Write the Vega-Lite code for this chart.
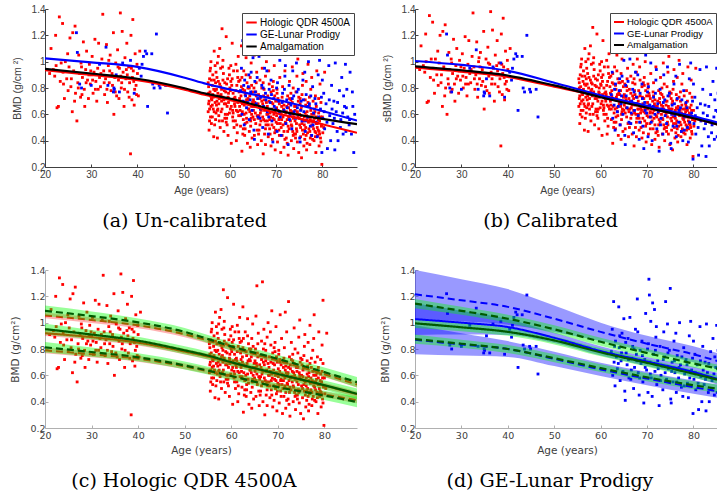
{
"$schema":"https://vega.github.io/schema/vega-lite/v6.json",
"background":"white",
"padding":{"left":10,"top":4,"right":0,"bottom":0},
"columns":2,
"spacing":{"row":34,"column":23},
"resolve":{"scale":{"stroke":"independent"},"legend":{"stroke":"independent"}},
"datasets":{
"hol":[
{"age":21.0,"bmd":0.91,"sbmd":0.94},{"age":21.3,"bmd":1.10,"sbmd":1.12},{"age":21.8,"bmd":0.94,"sbmd":0.97},{"age":22.1,"bmd":0.89,"sbmd":0.92},{"age":22.3,"bmd":1.20,"sbmd":1.21},{"age":22.6,"bmd":0.65,"sbmd":0.69},{"age":22.9,"bmd":0.66,"sbmd":0.70},{"age":23.1,"bmd":1.34,"sbmd":1.35},{"age":23.3,"bmd":0.85,"sbmd":0.88},{"age":23.5,"bmd":0.99,"sbmd":1.02},{"age":23.8,"bmd":1.29,"sbmd":1.30},{"age":23.9,"bmd":0.92,"sbmd":0.95},{"age":24.2,"bmd":0.72,"sbmd":0.76},{"age":24.4,"bmd":1.00,"sbmd":1.02},{"age":24.7,"bmd":0.87,"sbmd":0.90},{"age":25.0,"bmd":0.78,"sbmd":0.82},{"age":25.2,"bmd":0.96,"sbmd":0.99},{"age":25.4,"bmd":1.18,"sbmd":1.20},{"age":25.6,"bmd":0.81,"sbmd":0.84},{"age":25.9,"bmd":0.62,"sbmd":0.66},{"age":26.0,"bmd":1.22,"sbmd":1.23},{"age":26.2,"bmd":0.93,"sbmd":0.96},{"age":26.5,"bmd":1.27,"sbmd":1.28},{"age":26.6,"bmd":0.76,"sbmd":0.80},{"age":26.9,"bmd":0.55,"sbmd":0.60},{"age":27.1,"bmd":0.84,"sbmd":0.87},{"age":27.3,"bmd":1.05,"sbmd":1.07},{"age":27.5,"bmd":0.91,"sbmd":0.94},{"age":27.7,"bmd":0.73,"sbmd":0.77},{"age":27.9,"bmd":0.96,"sbmd":0.99},{"age":28.1,"bmd":0.88,"sbmd":0.91},{"age":28.3,"bmd":1.15,"sbmd":1.17},{"age":28.5,"bmd":0.79,"sbmd":0.83},{"age":28.6,"bmd":0.66,"sbmd":0.70},{"age":28.8,"bmd":0.94,"sbmd":0.97},{"age":29.0,"bmd":1.08,"sbmd":1.10},{"age":29.2,"bmd":0.86,"sbmd":0.89},{"age":29.4,"bmd":0.72,"sbmd":0.76},{"age":29.6,"bmd":0.98,"sbmd":1.01},{"age":29.8,"bmd":0.83,"sbmd":0.86},{"age":30.0,"bmd":0.90,"sbmd":0.93},{"age":30.2,"bmd":1.04,"sbmd":1.06},{"age":30.4,"bmd":0.76,"sbmd":0.80},{"age":30.6,"bmd":0.92,"sbmd":0.95},{"age":30.8,"bmd":1.17,"sbmd":1.19},{"age":31.0,"bmd":0.85,"sbmd":0.88},{"age":31.2,"bmd":0.70,"sbmd":0.74},{"age":31.4,"bmd":0.95,"sbmd":0.98},{"age":31.6,"bmd":1.14,"sbmd":1.16},{"age":31.8,"bmd":0.88,"sbmd":0.91},{"age":32.0,"bmd":0.81,"sbmd":0.84},{"age":32.3,"bmd":1.02,"sbmd":1.04},{"age":32.5,"bmd":1.36,"sbmd":1.37},{"age":32.7,"bmd":0.93,"sbmd":0.96},{"age":32.9,"bmd":0.75,"sbmd":0.79},{"age":33.1,"bmd":0.87,"sbmd":0.90},{"age":33.3,"bmd":1.13,"sbmd":1.15},{"age":33.5,"bmd":0.69,"sbmd":0.73},{"age":33.7,"bmd":0.97,"sbmd":1.00},{"age":33.9,"bmd":0.84,"sbmd":0.87},{"age":34.1,"bmd":1.05,"sbmd":1.07},{"age":34.3,"bmd":0.78,"sbmd":0.82},{"age":34.5,"bmd":0.91,"sbmd":0.94},{"age":34.8,"bmd":1.22,"sbmd":1.23},{"age":34.9,"bmd":0.60,"sbmd":0.64},{"age":35.1,"bmd":0.88,"sbmd":0.91},{"age":35.3,"bmd":0.99,"sbmd":1.02},{"age":35.5,"bmd":0.74,"sbmd":0.78},{"age":35.7,"bmd":1.09,"sbmd":1.11},{"age":35.9,"bmd":0.86,"sbmd":0.89},{"age":36.1,"bmd":0.95,"sbmd":0.98},{"age":36.3,"bmd":1.37,"sbmd":1.38},{"age":36.5,"bmd":0.80,"sbmd":0.83},{"age":36.7,"bmd":1.23,"sbmd":1.24},{"age":36.9,"bmd":0.92,"sbmd":0.95},{"age":37.1,"bmd":0.66,"sbmd":0.70},{"age":37.3,"bmd":1.03,"sbmd":1.05},{"age":37.5,"bmd":0.87,"sbmd":0.90},{"age":37.7,"bmd":1.14,"sbmd":1.16},{"age":37.9,"bmd":0.77,"sbmd":0.81},{"age":38.1,"bmd":0.96,"sbmd":0.99},{"age":38.3,"bmd":0.84,"sbmd":0.87},{"age":38.5,"bmd":0.30,"sbmd":0.36},{"age":38.6,"bmd":1.20,"sbmd":1.21},{"age":38.8,"bmd":0.71,"sbmd":0.75},{"age":39.0,"bmd":1.32,"sbmd":1.33},{"age":39.1,"bmd":0.93,"sbmd":0.96},{"age":39.3,"bmd":0.67,"sbmd":0.71},{"age":39.5,"bmd":1.06,"sbmd":1.08},{"age":39.7,"bmd":0.82,"sbmd":0.85},{"age":39.9,"bmd":0.98,"sbmd":1.01},{"age":40.2,"bmd":0.74,"sbmd":0.78},{"age":40.5,"bmd":1.08,"sbmd":1.10},{"age":36.4,"bmd":0.89,"sbmd":0.92},{"age":37.6,"bmd":0.94,"sbmd":0.97},{"age":38.9,"bmd":0.88,"sbmd":0.91},{"age":39.4,"bmd":0.79,"sbmd":0.83},{"age":27.8,"bmd":0.99,"sbmd":1.02},{"age":29.9,"bmd":0.93,"sbmd":0.96},{"age":25.7,"bmd":0.87,"sbmd":0.90},{"age":31.5,"bmd":0.79,"sbmd":0.83},
{"age":22.4,"bmd":0.97,"sbmd":1.00},{"age":24.0,"bmd":0.83,"sbmd":0.86},{"age":24.9,"bmd":1.06,"sbmd":1.08},{"age":26.4,"bmd":0.70,"sbmd":0.74},{"age":27.2,"bmd":0.80,"sbmd":0.83},{"age":28.0,"bmd":0.75,"sbmd":0.79},{"age":28.9,"bmd":0.84,"sbmd":0.87},{"age":29.5,"bmd":0.90,"sbmd":0.93},{"age":30.3,"bmd":0.86,"sbmd":0.89},{"age":30.9,"bmd":0.79,"sbmd":0.83},{"age":32.1,"bmd":0.91,"sbmd":0.94},{"age":32.8,"bmd":0.84,"sbmd":0.87},{"age":33.4,"bmd":0.79,"sbmd":0.83},{"age":34.0,"bmd":0.93,"sbmd":0.96},{"age":34.6,"bmd":0.82,"sbmd":0.85},{"age":35.2,"bmd":0.77,"sbmd":0.81},{"age":35.8,"bmd":0.96,"sbmd":0.99},{"age":36.6,"bmd":0.84,"sbmd":0.87},{"age":37.2,"bmd":0.79,"sbmd":0.83},{"age":37.8,"bmd":0.90,"sbmd":0.93},{"age":38.2,"bmd":0.73,"sbmd":0.77},{"age":38.7,"bmd":0.95,"sbmd":0.98},{"age":39.2,"bmd":0.85,"sbmd":0.88},{"age":39.8,"bmd":0.75,"sbmd":0.79},{"age":40.0,"bmd":0.91,"sbmd":0.94},{"age":36.0,"bmd":0.72,"sbmd":0.76},{"age":33.8,"bmd":1.01,"sbmd":1.03},
{"age":55.3,"bmd":0.62,"sbmd":0.66},{"age":55.4,"bmd":0.81,"sbmd":0.84},{"age":55.5,"bmd":0.70,"sbmd":0.74},{"age":55.6,"bmd":0.55,"sbmd":0.60},{"age":55.7,"bmd":0.93,"sbmd":0.96},{"age":55.8,"bmd":0.74,"sbmd":0.78},{"age":55.9,"bmd":0.66,"sbmd":0.70},{"age":56.0,"bmd":0.86,"sbmd":0.89},{"age":55.5,"bmd":0.48,"sbmd":0.53},{"age":55.7,"bmd":0.77,"sbmd":0.81},{"age":55.9,"bmd":1.00,"sbmd":1.02},
{"age":56.1,"bmd":0.71,"sbmd":0.75},{"age":56.2,"bmd":0.58,"sbmd":0.63},{"age":56.3,"bmd":0.90,"sbmd":0.93},{"age":56.4,"bmd":0.64,"sbmd":0.68},{"age":56.5,"bmd":0.79,"sbmd":0.83},{"age":56.6,"bmd":1.08,"sbmd":1.10},{"age":56.7,"bmd":0.52,"sbmd":0.57},{"age":56.8,"bmd":0.69,"sbmd":0.73},{"age":56.9,"bmd":0.84,"sbmd":0.87},{"age":57.0,"bmd":0.61,"sbmd":0.65},{"age":56.5,"bmd":0.43,"sbmd":0.48},{"age":56.8,"bmd":0.97,"sbmd":1.00},{"age":56.3,"bmd":0.75,"sbmd":0.79},
{"age":57.1,"bmd":0.67,"sbmd":0.71},{"age":57.2,"bmd":0.88,"sbmd":0.91},{"age":57.3,"bmd":0.42,"sbmd":0.47},{"age":57.4,"bmd":0.76,"sbmd":0.80},{"age":57.5,"bmd":1.04,"sbmd":1.06},{"age":57.6,"bmd":0.59,"sbmd":0.64},{"age":57.7,"bmd":0.72,"sbmd":0.76},{"age":57.8,"bmd":0.83,"sbmd":0.86},{"age":57.9,"bmd":0.50,"sbmd":0.55},{"age":58.0,"bmd":0.95,"sbmd":0.98},{"age":57.4,"bmd":0.64,"sbmd":0.68},{"age":57.8,"bmd":1.10,"sbmd":1.12},{"age":57.2,"bmd":0.70,"sbmd":0.74},
{"age":58.1,"bmd":0.62,"sbmd":0.66},{"age":58.2,"bmd":0.79,"sbmd":0.83},{"age":58.3,"bmd":1.25,"sbmd":1.26},{"age":58.4,"bmd":0.55,"sbmd":0.60},{"age":58.5,"bmd":0.73,"sbmd":0.77},{"age":58.6,"bmd":0.91,"sbmd":0.94},{"age":58.7,"bmd":0.47,"sbmd":0.52},{"age":58.8,"bmd":0.68,"sbmd":0.72},{"age":58.9,"bmd":0.84,"sbmd":0.87},{"age":59.0,"bmd":0.60,"sbmd":0.64},{"age":58.5,"bmd":1.01,"sbmd":1.03},{"age":58.2,"bmd":0.70,"sbmd":0.74},
{"age":59.1,"bmd":0.77,"sbmd":0.81},{"age":59.2,"bmd":1.19,"sbmd":1.21},{"age":59.3,"bmd":0.57,"sbmd":0.62},{"age":59.4,"bmd":0.66,"sbmd":0.70},{"age":59.5,"bmd":0.87,"sbmd":0.90},{"age":59.6,"bmd":0.44,"sbmd":0.49},{"age":59.7,"bmd":0.72,"sbmd":0.76},{"age":59.8,"bmd":0.95,"sbmd":0.98},{"age":59.9,"bmd":0.61,"sbmd":0.65},{"age":60.0,"bmd":0.80,"sbmd":0.83},{"age":59.4,"bmd":0.52,"sbmd":0.57},{"age":59.7,"bmd":0.69,"sbmd":0.73},
{"age":60.1,"bmd":0.64,"sbmd":0.68},{"age":60.2,"bmd":0.85,"sbmd":0.88},{"age":60.3,"bmd":0.38,"sbmd":0.44},{"age":60.4,"bmd":0.71,"sbmd":0.75},{"age":60.5,"bmd":1.14,"sbmd":1.16},{"age":60.6,"bmd":0.58,"sbmd":0.63},{"age":60.7,"bmd":0.76,"sbmd":0.80},{"age":60.8,"bmd":0.93,"sbmd":0.96},{"age":60.9,"bmd":0.50,"sbmd":0.55},{"age":61.0,"bmd":0.68,"sbmd":0.72},{"age":60.4,"bmd":0.82,"sbmd":0.85},{"age":60.7,"bmd":0.61,"sbmd":0.65},
{"age":61.1,"bmd":0.73,"sbmd":0.77},{"age":61.2,"bmd":0.55,"sbmd":0.60},{"age":61.3,"bmd":0.98,"sbmd":1.01},{"age":61.4,"bmd":0.63,"sbmd":0.67},{"age":61.5,"bmd":0.82,"sbmd":0.85},{"age":61.6,"bmd":0.46,"sbmd":0.51},{"age":61.7,"bmd":0.69,"sbmd":0.73},{"age":61.8,"bmd":1.04,"sbmd":1.06},{"age":61.9,"bmd":0.59,"sbmd":0.64},{"age":62.0,"bmd":0.77,"sbmd":0.81},{"age":61.4,"bmd":0.40,"sbmd":0.45},{"age":61.7,"bmd":0.88,"sbmd":0.91},
{"age":62.1,"bmd":0.66,"sbmd":0.70},{"age":62.2,"bmd":0.86,"sbmd":0.89},{"age":62.3,"bmd":0.51,"sbmd":0.56},{"age":62.4,"bmd":0.74,"sbmd":0.78},{"age":62.5,"bmd":1.12,"sbmd":1.14},{"age":62.6,"bmd":0.32,"sbmd":0.38},{"age":62.7,"bmd":0.62,"sbmd":0.66},{"age":62.8,"bmd":0.79,"sbmd":0.83},{"age":62.9,"bmd":0.56,"sbmd":0.61},{"age":63.0,"bmd":0.93,"sbmd":0.96},{"age":62.4,"bmd":0.70,"sbmd":0.74},{"age":62.8,"bmd":0.45,"sbmd":0.50},
{"age":63.1,"bmd":0.60,"sbmd":0.64},{"age":63.2,"bmd":0.78,"sbmd":0.82},{"age":63.3,"bmd":0.49,"sbmd":0.54},{"age":63.4,"bmd":0.69,"sbmd":0.73},{"age":63.5,"bmd":1.03,"sbmd":1.05},{"age":63.6,"bmd":0.57,"sbmd":0.62},{"age":63.7,"bmd":0.84,"sbmd":0.87},{"age":63.8,"bmd":0.38,"sbmd":0.44},{"age":63.9,"bmd":0.72,"sbmd":0.76},{"age":64.0,"bmd":0.64,"sbmd":0.68},{"age":63.5,"bmd":0.90,"sbmd":0.93},{"age":63.3,"bmd":0.53,"sbmd":0.58},
{"age":64.1,"bmd":0.71,"sbmd":0.75},{"age":64.2,"bmd":0.47,"sbmd":0.52},{"age":64.3,"bmd":0.62,"sbmd":0.66},{"age":64.4,"bmd":0.88,"sbmd":0.91},{"age":64.5,"bmd":0.55,"sbmd":0.60},{"age":64.6,"bmd":0.99,"sbmd":1.02},{"age":64.7,"bmd":0.66,"sbmd":0.70},{"age":64.8,"bmd":0.42,"sbmd":0.47},{"age":64.9,"bmd":0.77,"sbmd":0.81},{"age":65.0,"bmd":0.58,"sbmd":0.63},{"age":64.4,"bmd":0.35,"sbmd":0.41},{"age":64.7,"bmd":0.82,"sbmd":0.85},
{"age":65.1,"bmd":0.63,"sbmd":0.67},{"age":65.2,"bmd":0.80,"sbmd":0.83},{"age":65.3,"bmd":0.44,"sbmd":0.49},{"age":65.4,"bmd":0.69,"sbmd":0.73},{"age":65.5,"bmd":1.28,"sbmd":1.29},{"age":65.6,"bmd":0.53,"sbmd":0.58},{"age":65.7,"bmd":0.74,"sbmd":0.78},{"age":65.8,"bmd":0.92,"sbmd":0.95},{"age":65.9,"bmd":0.59,"sbmd":0.64},{"age":66.0,"bmd":0.37,"sbmd":0.43},{"age":65.5,"bmd":0.67,"sbmd":0.71},{"age":65.3,"bmd":1.05,"sbmd":1.07},
{"age":66.1,"bmd":0.57,"sbmd":0.62},{"age":66.2,"bmd":0.75,"sbmd":0.79},{"age":66.3,"bmd":0.48,"sbmd":0.53},{"age":66.4,"bmd":0.66,"sbmd":0.70},{"age":66.5,"bmd":0.86,"sbmd":0.89},{"age":66.6,"bmd":0.61,"sbmd":0.65},{"age":66.7,"bmd":1.31,"sbmd":1.32},{"age":66.8,"bmd":0.40,"sbmd":0.45},{"age":66.9,"bmd":0.70,"sbmd":0.74},{"age":67.0,"bmd":0.95,"sbmd":0.98},{"age":66.5,"bmd":0.52,"sbmd":0.57},{"age":66.8,"bmd":0.63,"sbmd":0.67},
{"age":67.1,"bmd":0.68,"sbmd":0.72},{"age":67.2,"bmd":0.30,"sbmd":0.36},{"age":67.3,"bmd":0.56,"sbmd":0.61},{"age":67.4,"bmd":0.79,"sbmd":0.83},{"age":67.5,"bmd":0.45,"sbmd":0.50},{"age":67.6,"bmd":0.64,"sbmd":0.68},{"age":67.7,"bmd":0.89,"sbmd":0.92},{"age":67.8,"bmd":0.52,"sbmd":0.57},{"age":67.9,"bmd":1.00,"sbmd":1.02},{"age":68.0,"bmd":0.60,"sbmd":0.64},{"age":67.4,"bmd":0.71,"sbmd":0.75},{"age":67.7,"bmd":0.37,"sbmd":0.43},
{"age":68.1,"bmd":0.55,"sbmd":0.60},{"age":68.2,"bmd":0.74,"sbmd":0.78},{"age":68.3,"bmd":0.43,"sbmd":0.48},{"age":68.4,"bmd":0.63,"sbmd":0.67},{"age":68.5,"bmd":0.83,"sbmd":0.86},{"age":68.6,"bmd":0.49,"sbmd":0.54},{"age":68.7,"bmd":1.09,"sbmd":1.11},{"age":68.8,"bmd":0.58,"sbmd":0.63},{"age":68.9,"bmd":0.36,"sbmd":0.42},{"age":69.0,"bmd":0.69,"sbmd":0.73},{"age":68.4,"bmd":0.93,"sbmd":0.96},{"age":68.7,"bmd":0.61,"sbmd":0.65},
{"age":69.1,"bmd":0.64,"sbmd":0.68},{"age":69.2,"bmd":0.41,"sbmd":0.46},{"age":69.3,"bmd":0.57,"sbmd":0.62},{"age":69.4,"bmd":0.78,"sbmd":0.82},{"age":69.5,"bmd":0.50,"sbmd":0.55},{"age":69.6,"bmd":0.97,"sbmd":1.00},{"age":69.7,"bmd":0.62,"sbmd":0.66},{"age":69.8,"bmd":0.33,"sbmd":0.39},{"age":69.9,"bmd":0.70,"sbmd":0.74},{"age":70.0,"bmd":0.54,"sbmd":0.59},{"age":69.4,"bmd":0.85,"sbmd":0.88},{"age":69.7,"bmd":0.46,"sbmd":0.51},
{"age":70.1,"bmd":0.59,"sbmd":0.64},{"age":70.2,"bmd":0.76,"sbmd":0.80},{"age":70.3,"bmd":0.39,"sbmd":0.45},{"age":70.4,"bmd":0.63,"sbmd":0.67},{"age":70.5,"bmd":1.06,"sbmd":1.08},{"age":70.6,"bmd":0.48,"sbmd":0.53},{"age":70.7,"bmd":0.68,"sbmd":0.72},{"age":70.8,"bmd":0.88,"sbmd":0.91},{"age":70.9,"bmd":0.53,"sbmd":0.58},{"age":71.0,"bmd":0.31,"sbmd":0.37},{"age":70.4,"bmd":0.72,"sbmd":0.76},{"age":70.7,"bmd":0.57,"sbmd":0.62},
{"age":71.1,"bmd":0.50,"sbmd":0.55},{"age":71.2,"bmd":0.66,"sbmd":0.70},{"age":71.3,"bmd":0.44,"sbmd":0.49},{"age":71.4,"bmd":0.81,"sbmd":0.84},{"age":71.5,"bmd":0.58,"sbmd":0.63},{"age":71.6,"bmd":1.08,"sbmd":1.10},{"age":71.7,"bmd":0.35,"sbmd":0.41},{"age":71.8,"bmd":0.62,"sbmd":0.66},{"age":71.9,"bmd":0.93,"sbmd":0.96},{"age":72.0,"bmd":0.54,"sbmd":0.59},{"age":71.4,"bmd":0.70,"sbmd":0.74},{"age":71.7,"bmd":0.47,"sbmd":0.52},
{"age":72.1,"bmd":0.61,"sbmd":0.65},{"age":72.2,"bmd":0.42,"sbmd":0.47},{"age":72.3,"bmd":1.16,"sbmd":1.18},{"age":72.4,"bmd":0.56,"sbmd":0.61},{"age":72.5,"bmd":0.74,"sbmd":0.78},{"age":72.6,"bmd":0.29,"sbmd":0.35},{"age":72.7,"bmd":0.65,"sbmd":0.69},{"age":72.8,"bmd":0.49,"sbmd":0.54},{"age":72.9,"bmd":0.85,"sbmd":0.88},{"age":73.0,"bmd":0.59,"sbmd":0.64},{"age":72.4,"bmd":0.38,"sbmd":0.44},{"age":72.7,"bmd":0.68,"sbmd":0.72},
{"age":73.1,"bmd":0.55,"sbmd":0.60},{"age":73.2,"bmd":0.71,"sbmd":0.75},{"age":73.3,"bmd":0.40,"sbmd":0.45},{"age":73.4,"bmd":0.62,"sbmd":0.66},{"age":73.5,"bmd":0.96,"sbmd":0.99},{"age":73.6,"bmd":0.47,"sbmd":0.52},{"age":73.7,"bmd":0.80,"sbmd":0.83},{"age":73.8,"bmd":0.34,"sbmd":0.40},{"age":73.9,"bmd":0.58,"sbmd":0.63},{"age":74.0,"bmd":0.66,"sbmd":0.70},{"age":73.4,"bmd":0.51,"sbmd":0.56},{"age":73.7,"bmd":0.44,"sbmd":0.49},
{"age":74.1,"bmd":0.63,"sbmd":0.67},{"age":74.2,"bmd":0.45,"sbmd":0.50},{"age":74.3,"bmd":0.77,"sbmd":0.81},{"age":74.4,"bmd":0.53,"sbmd":0.58},{"age":74.5,"bmd":0.89,"sbmd":0.92},{"age":74.6,"bmd":0.39,"sbmd":0.45},{"age":74.7,"bmd":0.60,"sbmd":0.64},{"age":74.8,"bmd":0.70,"sbmd":0.74},{"age":74.9,"bmd":0.31,"sbmd":0.37},{"age":75.0,"bmd":0.57,"sbmd":0.62},{"age":74.4,"bmd":0.49,"sbmd":0.54},{"age":74.7,"bmd":1.02,"sbmd":1.04},
{"age":75.1,"bmd":0.52,"sbmd":0.57},{"age":75.2,"bmd":0.68,"sbmd":0.72},{"age":75.3,"bmd":0.43,"sbmd":0.48},{"age":75.4,"bmd":0.59,"sbmd":0.64},{"age":75.5,"bmd":0.27,"sbmd":0.33},{"age":75.6,"bmd":0.75,"sbmd":0.79},{"age":75.7,"bmd":0.48,"sbmd":0.53},{"age":75.8,"bmd":0.91,"sbmd":0.94},{"age":75.9,"bmd":0.55,"sbmd":0.60},{"age":76.0,"bmd":0.36,"sbmd":0.42},{"age":75.4,"bmd":0.64,"sbmd":0.68},{"age":75.7,"bmd":0.82,"sbmd":0.85},
{"age":76.1,"bmd":0.58,"sbmd":0.63},{"age":76.2,"bmd":0.41,"sbmd":0.46},{"age":76.3,"bmd":0.71,"sbmd":0.75},{"age":76.4,"bmd":0.50,"sbmd":0.55},{"age":76.5,"bmd":0.85,"sbmd":0.88},{"age":76.6,"bmd":0.33,"sbmd":0.39},{"age":76.7,"bmd":0.62,"sbmd":0.66},{"age":76.8,"bmd":0.46,"sbmd":0.51},{"age":76.9,"bmd":0.98,"sbmd":1.01},{"age":77.0,"bmd":0.54,"sbmd":0.59},{"age":76.4,"bmd":0.67,"sbmd":0.71},{"age":76.7,"bmd":0.38,"sbmd":0.44},
{"age":77.1,"bmd":0.49,"sbmd":0.54},{"age":77.2,"bmd":0.66,"sbmd":0.70},{"age":77.3,"bmd":0.37,"sbmd":0.43},{"age":77.4,"bmd":0.56,"sbmd":0.61},{"age":77.5,"bmd":0.79,"sbmd":0.83},{"age":77.6,"bmd":0.44,"sbmd":0.49},{"age":77.7,"bmd":0.60,"sbmd":0.64},{"age":77.8,"bmd":1.06,"sbmd":1.08},{"age":77.9,"bmd":0.51,"sbmd":0.56},{"age":78.0,"bmd":0.70,"sbmd":0.74},{"age":77.4,"bmd":0.42,"sbmd":0.47},{"age":77.7,"bmd":0.88,"sbmd":0.91},
{"age":78.1,"bmd":0.55,"sbmd":0.60},{"age":78.2,"bmd":0.40,"sbmd":0.45},{"age":78.3,"bmd":0.64,"sbmd":0.68},{"age":78.4,"bmd":0.47,"sbmd":0.52},{"age":78.5,"bmd":0.74,"sbmd":0.78},{"age":78.6,"bmd":0.31,"sbmd":0.37},{"age":78.7,"bmd":0.58,"sbmd":0.63},{"age":78.8,"bmd":0.93,"sbmd":0.96},{"age":78.9,"bmd":0.50,"sbmd":0.55},{"age":79.0,"bmd":0.44,"sbmd":0.49},{"age":78.4,"bmd":0.62,"sbmd":0.66},{"age":78.7,"bmd":0.53,"sbmd":0.58},
{"age":79.1,"bmd":0.48,"sbmd":0.53},{"age":79.2,"bmd":0.61,"sbmd":0.65},{"age":79.3,"bmd":0.36,"sbmd":0.42},{"age":79.4,"bmd":0.55,"sbmd":0.60},{"age":79.5,"bmd":0.83,"sbmd":0.86},{"age":79.6,"bmd":0.42,"sbmd":0.47},{"age":79.7,"bmd":0.69,"sbmd":0.73},{"age":79.8,"bmd":0.51,"sbmd":0.56},{"age":79.9,"bmd":0.22,"sbmd":0.28},{"age":80.0,"bmd":0.58,"sbmd":0.63},{"age":79.4,"bmd":0.45,"sbmd":0.50},{"age":79.7,"bmd":1.17,"sbmd":1.19},{"age":80.3,"bmd":0.50,"sbmd":0.55},{"age":80.5,"bmd":0.92,"sbmd":0.95},
{"age":55.4,"bmd":0.68,"sbmd":0.72},{"age":55.6,"bmd":0.87,"sbmd":0.90},{"age":55.8,"bmd":0.58,"sbmd":0.63},{"age":55.4,"bmd":0.76,"sbmd":0.80},{"age":55.6,"bmd":0.64,"sbmd":0.68},{"age":55.8,"bmd":0.95,"sbmd":0.98},{"age":56.0,"bmd":0.72,"sbmd":0.76},{"age":55.3,"bmd":0.84,"sbmd":0.87},{"age":56.0,"bmd":0.53,"sbmd":0.58},
{"age":56.2,"bmd":0.82,"sbmd":0.85},{"age":56.4,"bmd":0.73,"sbmd":0.77},{"age":56.6,"bmd":0.62,"sbmd":0.66},{"age":56.8,"bmd":0.78,"sbmd":0.82},{"age":57.0,"bmd":0.92,"sbmd":0.95},{"age":56.2,"bmd":0.67,"sbmd":0.71},{"age":56.9,"bmd":0.56,"sbmd":0.61},{"age":56.6,"bmd":0.86,"sbmd":0.89},
{"age":57.1,"bmd":0.79,"sbmd":0.83},{"age":57.3,"bmd":0.63,"sbmd":0.67},{"age":57.5,"bmd":0.85,"sbmd":0.88},{"age":57.7,"bmd":0.55,"sbmd":0.60},{"age":57.9,"bmd":0.74,"sbmd":0.78},{"age":57.3,"bmd":0.99,"sbmd":1.02},{"age":57.6,"bmd":0.68,"sbmd":0.72},{"age":58.0,"bmd":0.81,"sbmd":0.84},
{"age":58.1,"bmd":0.75,"sbmd":0.79},{"age":58.3,"bmd":0.64,"sbmd":0.68},{"age":58.5,"bmd":0.86,"sbmd":0.89},{"age":58.7,"bmd":0.71,"sbmd":0.75},{"age":58.9,"bmd":0.57,"sbmd":0.62},{"age":58.4,"bmd":0.96,"sbmd":0.99},{"age":58.8,"bmd":0.78,"sbmd":0.82},
{"age":59.1,"bmd":0.68,"sbmd":0.72},{"age":59.3,"bmd":0.83,"sbmd":0.86},{"age":59.5,"bmd":0.60,"sbmd":0.64},{"age":59.7,"bmd":0.76,"sbmd":0.80},{"age":59.9,"bmd":0.90,"sbmd":0.93},{"age":59.2,"bmd":0.54,"sbmd":0.59},{"age":59.6,"bmd":0.73,"sbmd":0.77},
{"age":60.1,"bmd":0.78,"sbmd":0.82},{"age":60.3,"bmd":0.66,"sbmd":0.70},{"age":60.5,"bmd":0.87,"sbmd":0.90},{"age":60.7,"bmd":0.55,"sbmd":0.60},{"age":60.9,"bmd":0.72,"sbmd":0.76},{"age":60.2,"bmd":0.97,"sbmd":1.00},{"age":60.6,"bmd":0.63,"sbmd":0.67},
{"age":61.1,"bmd":0.66,"sbmd":0.70},{"age":61.3,"bmd":0.78,"sbmd":0.82},{"age":61.5,"bmd":0.52,"sbmd":0.57},{"age":61.7,"bmd":0.62,"sbmd":0.66},{"age":61.9,"bmd":0.85,"sbmd":0.88},{"age":61.2,"bmd":0.71,"sbmd":0.75},{"age":61.6,"bmd":0.93,"sbmd":0.96},
{"age":62.1,"bmd":0.72,"sbmd":0.76},{"age":62.3,"bmd":0.59,"sbmd":0.64},{"age":62.5,"bmd":0.81,"sbmd":0.84},{"age":62.7,"bmd":0.68,"sbmd":0.72},{"age":62.9,"bmd":0.49,"sbmd":0.54},{"age":62.2,"bmd":0.63,"sbmd":0.67},{"age":62.6,"bmd":0.88,"sbmd":0.91},
{"age":63.1,"bmd":0.67,"sbmd":0.71},{"age":63.3,"bmd":0.75,"sbmd":0.79},{"age":63.5,"bmd":0.61,"sbmd":0.65},{"age":63.7,"bmd":0.54,"sbmd":0.59},{"age":63.9,"bmd":0.80,"sbmd":0.84},{"age":63.2,"bmd":0.44,"sbmd":0.49},{"age":63.6,"bmd":0.71,"sbmd":0.75},
{"age":64.1,"bmd":0.64,"sbmd":0.68},{"age":64.3,"bmd":0.74,"sbmd":0.78},{"age":64.5,"bmd":0.51,"sbmd":0.56},{"age":64.7,"bmd":0.60,"sbmd":0.64},{"age":64.9,"bmd":0.69,"sbmd":0.73},{"age":64.2,"bmd":0.80,"sbmd":0.84},{"age":64.6,"bmd":0.57,"sbmd":0.62},
{"age":65.1,"bmd":0.71,"sbmd":0.75},{"age":65.3,"bmd":0.56,"sbmd":0.61},{"age":65.5,"bmd":0.61,"sbmd":0.65},{"age":65.7,"bmd":0.84,"sbmd":0.87},{"age":65.9,"bmd":0.48,"sbmd":0.53},{"age":65.2,"bmd":0.66,"sbmd":0.70},{"age":65.6,"bmd":0.77,"sbmd":0.81},
{"age":66.1,"bmd":0.68,"sbmd":0.72},{"age":66.3,"bmd":0.59,"sbmd":0.64},{"age":66.5,"bmd":0.72,"sbmd":0.76},{"age":66.7,"bmd":0.55,"sbmd":0.60},{"age":66.9,"bmd":0.80,"sbmd":0.84},{"age":66.2,"bmd":0.45,"sbmd":0.50},{"age":66.6,"bmd":0.64,"sbmd":0.68},
{"age":67.1,"bmd":0.58,"sbmd":0.63},{"age":67.3,"bmd":0.74,"sbmd":0.78},{"age":67.5,"bmd":0.63,"sbmd":0.67},{"age":67.7,"bmd":0.49,"sbmd":0.54},{"age":67.9,"bmd":0.69,"sbmd":0.73},{"age":67.2,"bmd":0.84,"sbmd":0.87},{"age":67.6,"bmd":0.55,"sbmd":0.60},
{"age":68.1,"bmd":0.66,"sbmd":0.70},{"age":68.3,"bmd":0.52,"sbmd":0.57},{"age":68.5,"bmd":0.70,"sbmd":0.74},{"age":68.7,"bmd":0.45,"sbmd":0.50},{"age":68.9,"bmd":0.77,"sbmd":0.81},{"age":68.2,"bmd":0.60,"sbmd":0.64},{"age":68.6,"bmd":0.56,"sbmd":0.61},
{"age":69.1,"bmd":0.52,"sbmd":0.57},{"age":69.3,"bmd":0.68,"sbmd":0.72},{"age":69.5,"bmd":0.60,"sbmd":0.64},{"age":69.7,"bmd":0.74,"sbmd":0.78},{"age":69.9,"bmd":0.48,"sbmd":0.53},{"age":69.2,"bmd":0.81,"sbmd":0.84},{"age":69.6,"bmd":0.56,"sbmd":0.61},
{"age":70.1,"bmd":0.65,"sbmd":0.69},{"age":70.3,"bmd":0.53,"sbmd":0.58},{"age":70.5,"bmd":0.70,"sbmd":0.74},{"age":70.7,"bmd":0.44,"sbmd":0.49},{"age":70.9,"bmd":0.61,"sbmd":0.65},{"age":70.2,"bmd":0.79,"sbmd":0.83},{"age":70.6,"bmd":0.56,"sbmd":0.61},
{"age":71.1,"bmd":0.60,"sbmd":0.64},{"age":71.3,"bmd":0.73,"sbmd":0.77},{"age":71.5,"bmd":0.52,"sbmd":0.57},{"age":71.7,"bmd":0.67,"sbmd":0.71},{"age":71.9,"bmd":0.41,"sbmd":0.46},{"age":71.2,"bmd":0.56,"sbmd":0.61},{"age":71.6,"bmd":0.64,"sbmd":0.68},
{"age":72.1,"bmd":0.53,"sbmd":0.58},{"age":72.3,"bmd":0.66,"sbmd":0.70},{"age":72.5,"bmd":0.47,"sbmd":0.52},{"age":72.7,"bmd":0.58,"sbmd":0.63},{"age":72.9,"bmd":0.72,"sbmd":0.76},{"age":72.2,"bmd":0.62,"sbmd":0.66},{"age":72.6,"bmd":0.51,"sbmd":0.56},
{"age":73.1,"bmd":0.63,"sbmd":0.67},{"age":73.3,"bmd":0.52,"sbmd":0.57},{"age":73.5,"bmd":0.69,"sbmd":0.73},{"age":73.7,"bmd":0.57,"sbmd":0.62},{"age":73.9,"bmd":0.45,"sbmd":0.50},{"age":73.2,"bmd":0.76,"sbmd":0.80},{"age":73.6,"bmd":0.60,"sbmd":0.64},
{"age":74.1,"bmd":0.55,"sbmd":0.60},{"age":74.3,"bmd":0.66,"sbmd":0.70},{"age":74.5,"bmd":0.47,"sbmd":0.52},{"age":74.7,"bmd":0.58,"sbmd":0.63},{"age":74.9,"bmd":0.73,"sbmd":0.77},{"age":74.2,"bmd":0.42,"sbmd":0.47},{"age":74.6,"bmd":0.62,"sbmd":0.66},
{"age":75.1,"bmd":0.60,"sbmd":0.64},{"age":75.3,"bmd":0.50,"sbmd":0.55},{"age":75.5,"bmd":0.66,"sbmd":0.70},{"age":75.7,"bmd":0.56,"sbmd":0.61},{"age":75.9,"bmd":0.45,"sbmd":0.50},{"age":75.2,"bmd":0.72,"sbmd":0.76},{"age":75.6,"bmd":0.53,"sbmd":0.58},
{"age":76.1,"bmd":0.52,"sbmd":0.57},{"age":76.3,"bmd":0.61,"sbmd":0.65},{"age":76.5,"bmd":0.44,"sbmd":0.49},{"age":76.7,"bmd":0.56,"sbmd":0.61},{"age":76.9,"bmd":0.69,"sbmd":0.73},{"age":76.2,"bmd":0.48,"sbmd":0.53},{"age":76.6,"bmd":0.59,"sbmd":0.64},
{"age":77.1,"bmd":0.58,"sbmd":0.63},{"age":77.3,"bmd":0.47,"sbmd":0.52},{"age":77.5,"bmd":0.63,"sbmd":0.67},{"age":77.7,"bmd":0.52,"sbmd":0.57},{"age":77.9,"bmd":0.41,"sbmd":0.46},{"age":77.2,"bmd":0.73,"sbmd":0.77},{"age":77.6,"bmd":0.55,"sbmd":0.60},
{"age":78.1,"bmd":0.49,"sbmd":0.54},{"age":78.3,"bmd":0.57,"sbmd":0.62},{"age":78.5,"bmd":0.43,"sbmd":0.48},{"age":78.7,"bmd":0.66,"sbmd":0.70},{"age":78.9,"bmd":0.53,"sbmd":0.58},{"age":78.2,"bmd":0.60,"sbmd":0.64},{"age":78.6,"bmd":0.46,"sbmd":0.51},
{"age":79.1,"bmd":0.56,"sbmd":0.61},{"age":79.3,"bmd":0.47,"sbmd":0.52},{"age":79.5,"bmd":0.63,"sbmd":0.67},{"age":79.7,"bmd":0.39,"sbmd":0.45},{"age":79.9,"bmd":0.52,"sbmd":0.57},{"age":79.2,"bmd":0.72,"sbmd":0.76},{"age":79.6,"bmd":0.58,"sbmd":0.63},{"age":80.1,"bmd":0.46,"sbmd":0.51}
],
"ge":[
{"age":26.8,"bmd":1.22,"sbmd":1.21},{"age":27.0,"bmd":1.07,"sbmd":1.05},{"age":27.5,"bmd":0.83,"sbmd":0.80},{"age":27.9,"bmd":0.80,"sbmd":0.77},{"age":30.0,"bmd":0.82,"sbmd":0.79},{"age":31.8,"bmd":0.98,"sbmd":0.95},{"age":33.2,"bmd":1.11,"sbmd":1.09},{"age":33.6,"bmd":0.82,"sbmd":0.79},{"age":34.8,"bmd":0.77,"sbmd":0.74},{"age":34.9,"bmd":0.80,"sbmd":0.77},{"age":35.0,"bmd":0.79,"sbmd":0.76},{"age":35.4,"bmd":0.90,"sbmd":0.87},{"age":36.1,"bmd":0.77,"sbmd":0.74},{"age":36.8,"bmd":0.99,"sbmd":0.96},{"age":38.5,"bmd":1.01,"sbmd":0.99},{"age":39.3,"bmd":0.76,"sbmd":0.73},{"age":40.4,"bmd":0.95,"sbmd":0.92},{"age":40.8,"bmd":0.89,"sbmd":0.86},{"age":41.0,"bmd":0.98,"sbmd":0.95},{"age":41.3,"bmd":1.04,"sbmd":1.02},{"age":41.7,"bmd":1.08,"sbmd":1.06},{"age":42.0,"bmd":1.06,"sbmd":1.04},{"age":42.2,"bmd":0.66,"sbmd":0.63},{"age":43.1,"bmd":1.06,"sbmd":1.04},{"age":43.3,"bmd":0.83,"sbmd":0.80},{"age":43.6,"bmd":0.80,"sbmd":0.77},{"age":44.1,"bmd":1.21,"sbmd":1.20},{"age":44.7,"bmd":0.82,"sbmd":0.79},{"age":44.9,"bmd":0.80,"sbmd":0.77},{"age":46.1,"bmd":0.82,"sbmd":0.79},{"age":46.5,"bmd":0.61,"sbmd":0.58},
{"age":62.3,"bmd":0.78,"sbmd":0.75},{"age":62.5,"bmd":0.95,"sbmd":0.92},{"age":62.6,"bmd":0.60,"sbmd":0.57},{"age":62.8,"bmd":1.16,"sbmd":1.14},{"age":62.9,"bmd":0.70,"sbmd":0.67},{"age":63.1,"bmd":0.52,"sbmd":0.48},{"age":63.2,"bmd":0.86,"sbmd":0.83},{"age":63.4,"bmd":0.74,"sbmd":0.71},{"age":63.6,"bmd":0.65,"sbmd":0.62},{"age":63.9,"bmd":1.12,"sbmd":1.10},{"age":64.0,"bmd":0.81,"sbmd":0.78},{"age":64.2,"bmd":0.56,"sbmd":0.52},{"age":64.4,"bmd":0.71,"sbmd":0.68},{"age":64.6,"bmd":0.92,"sbmd":0.89},{"age":64.8,"bmd":0.63,"sbmd":0.60},{"age":65.0,"bmd":1.03,"sbmd":1.01},{"age":65.2,"bmd":0.48,"sbmd":0.44},{"age":65.3,"bmd":0.41,"sbmd":0.37},{"age":65.5,"bmd":0.77,"sbmd":0.74},{"age":65.7,"bmd":0.68,"sbmd":0.65},{"age":65.9,"bmd":0.88,"sbmd":0.85},{"age":66.1,"bmd":0.58,"sbmd":0.54},{"age":66.3,"bmd":1.04,"sbmd":1.02},{"age":66.5,"bmd":0.57,"sbmd":0.53},{"age":66.7,"bmd":0.73,"sbmd":0.70},{"age":66.9,"bmd":0.82,"sbmd":0.79},{"age":67.1,"bmd":0.50,"sbmd":0.46},{"age":67.3,"bmd":0.66,"sbmd":0.63},{"age":67.5,"bmd":0.95,"sbmd":0.92},{"age":67.7,"bmd":0.76,"sbmd":0.73},{"age":67.9,"bmd":1.18,"sbmd":1.16},{"age":68.1,"bmd":0.62,"sbmd":0.59},{"age":68.3,"bmd":0.45,"sbmd":0.41},{"age":68.5,"bmd":0.79,"sbmd":0.76},{"age":68.7,"bmd":0.69,"sbmd":0.66},{"age":68.9,"bmd":0.86,"sbmd":0.83},{"age":69.1,"bmd":0.55,"sbmd":0.51},{"age":69.3,"bmd":0.39,"sbmd":0.34},{"age":69.5,"bmd":0.72,"sbmd":0.69},{"age":69.7,"bmd":1.07,"sbmd":1.05},{"age":69.9,"bmd":0.64,"sbmd":0.61},{"age":70.1,"bmd":0.80,"sbmd":0.77},{"age":70.2,"bmd":0.47,"sbmd":0.43},{"age":70.4,"bmd":1.33,"sbmd":1.32},{"age":70.5,"bmd":1.21,"sbmd":1.20},{"age":70.6,"bmd":0.70,"sbmd":0.67},{"age":70.8,"bmd":1.01,"sbmd":0.99},{"age":70.9,"bmd":0.58,"sbmd":0.54},{"age":71.1,"bmd":0.44,"sbmd":0.40},{"age":71.2,"bmd":1.15,"sbmd":1.13},{"age":71.4,"bmd":0.76,"sbmd":0.73},{"age":71.6,"bmd":1.10,"sbmd":1.08},{"age":71.7,"bmd":0.63,"sbmd":0.60},{"age":71.9,"bmd":0.89,"sbmd":0.86},{"age":72.1,"bmd":0.53,"sbmd":0.49},{"age":72.3,"bmd":0.71,"sbmd":0.68},{"age":72.6,"bmd":0.37,"sbmd":0.32},{"age":72.8,"bmd":0.82,"sbmd":0.79},{"age":73.0,"bmd":0.60,"sbmd":0.57},{"age":73.2,"bmd":0.67,"sbmd":0.64},{"age":73.4,"bmd":0.49,"sbmd":0.45},{"age":73.6,"bmd":0.93,"sbmd":0.90},{"age":73.8,"bmd":0.74,"sbmd":0.71},{"age":74.0,"bmd":1.16,"sbmd":1.14},{"age":74.2,"bmd":0.57,"sbmd":0.53},{"age":74.4,"bmd":0.99,"sbmd":0.96},{"age":74.6,"bmd":0.65,"sbmd":0.62},{"age":74.8,"bmd":0.79,"sbmd":0.76},{"age":75.0,"bmd":1.26,"sbmd":1.25},{"age":75.1,"bmd":0.42,"sbmd":0.38},{"age":75.2,"bmd":0.39,"sbmd":0.34},{"age":75.4,"bmd":0.70,"sbmd":0.67},{"age":75.6,"bmd":0.55,"sbmd":0.51},{"age":75.8,"bmd":0.86,"sbmd":0.83},{"age":76.0,"bmd":0.62,"sbmd":0.59},{"age":76.3,"bmd":0.47,"sbmd":0.43},{"age":76.5,"bmd":0.75,"sbmd":0.72},{"age":76.8,"bmd":0.58,"sbmd":0.54},{"age":77.0,"bmd":1.00,"sbmd":0.98},{"age":77.2,"bmd":0.68,"sbmd":0.65},{"age":77.4,"bmd":0.51,"sbmd":0.47},{"age":77.7,"bmd":0.44,"sbmd":0.40},{"age":77.9,"bmd":0.81,"sbmd":0.78},{"age":78.1,"bmd":0.61,"sbmd":0.58},{"age":78.4,"bmd":0.72,"sbmd":0.69},{"age":78.7,"bmd":0.54,"sbmd":0.50},{"age":78.9,"bmd":0.43,"sbmd":0.39},{"age":79.1,"bmd":0.90,"sbmd":0.87},{"age":79.4,"bmd":1.01,"sbmd":0.99},{"age":79.6,"bmd":0.64,"sbmd":0.61},{"age":79.9,"bmd":0.31,"sbmd":0.26},{"age":80.1,"bmd":0.57,"sbmd":0.53},{"age":80.3,"bmd":0.76,"sbmd":0.73},{"age":80.5,"bmd":0.49,"sbmd":0.45},{"age":80.8,"bmd":0.68,"sbmd":0.65},{"age":81.1,"bmd":0.34,"sbmd":0.29},{"age":81.4,"bmd":0.97,"sbmd":0.94},{"age":81.6,"bmd":0.59,"sbmd":0.55},{"age":81.8,"bmd":0.40,"sbmd":0.36},{"age":82.0,"bmd":0.82,"sbmd":0.79},{"age":82.3,"bmd":0.53,"sbmd":0.49},{"age":82.5,"bmd":0.70,"sbmd":0.67},{"age":82.7,"bmd":0.33,"sbmd":0.28},{"age":82.8,"bmd":0.99,"sbmd":0.96},{"age":83.0,"bmd":0.62,"sbmd":0.59},{"age":83.2,"bmd":0.47,"sbmd":0.43},{"age":83.4,"bmd":0.40,"sbmd":0.36},{"age":83.7,"bmd":0.78,"sbmd":0.75},{"age":84.0,"bmd":0.56,"sbmd":0.52},{"age":84.2,"bmd":0.88,"sbmd":0.85},{"age":84.5,"bmd":0.45,"sbmd":0.41},{"age":84.8,"bmd":0.66,"sbmd":0.63},{"age":85.0,"bmd":0.98,"sbmd":0.95},{"age":85.1,"bmd":0.47,"sbmd":0.43},{"age":85.3,"bmd":0.79,"sbmd":0.76},{"age":85.5,"bmd":0.58,"sbmd":0.54},{"age":85.8,"bmd":0.52,"sbmd":0.48},{"age":86.0,"bmd":0.92,"sbmd":0.89},{"age":86.3,"bmd":0.45,"sbmd":0.41},{"age":86.5,"bmd":0.77,"sbmd":0.74},{"age":86.8,"bmd":0.31,"sbmd":0.26},{"age":87.0,"bmd":0.60,"sbmd":0.57},
{"age":63.0,"bmd":0.82,"sbmd":0.79},{"age":63.8,"bmd":0.69,"sbmd":0.66},{"age":64.5,"bmd":0.77,"sbmd":0.74},{"age":65.4,"bmd":0.85,"sbmd":0.82},{"age":66.0,"bmd":0.72,"sbmd":0.69},{"age":66.6,"bmd":0.64,"sbmd":0.61},{"age":67.2,"bmd":0.80,"sbmd":0.77},{"age":67.8,"bmd":0.71,"sbmd":0.68},{"age":68.4,"bmd":0.58,"sbmd":0.54},{"age":69.0,"bmd":0.75,"sbmd":0.72},{"age":69.6,"bmd":0.66,"sbmd":0.63},{"age":70.3,"bmd":0.84,"sbmd":0.81},{"age":70.7,"bmd":0.61,"sbmd":0.58},{"age":71.3,"bmd":0.69,"sbmd":0.66},{"age":71.8,"bmd":0.79,"sbmd":0.76},{"age":72.4,"bmd":0.65,"sbmd":0.62},{"age":72.9,"bmd":0.56,"sbmd":0.52},{"age":73.5,"bmd":0.72,"sbmd":0.69},{"age":73.9,"bmd":0.62,"sbmd":0.59},{"age":74.5,"bmd":0.77,"sbmd":0.74},{"age":75.3,"bmd":0.63,"sbmd":0.60},{"age":75.9,"bmd":0.71,"sbmd":0.68},{"age":76.4,"bmd":0.55,"sbmd":0.51},{"age":76.9,"bmd":0.66,"sbmd":0.63},{"age":77.5,"bmd":0.74,"sbmd":0.71},{"age":78.0,"bmd":0.52,"sbmd":0.48},{"age":78.6,"bmd":0.68,"sbmd":0.65},{"age":79.2,"bmd":0.58,"sbmd":0.54},{"age":79.8,"bmd":0.73,"sbmd":0.70},{"age":80.4,"bmd":0.62,"sbmd":0.59},{"age":81.0,"bmd":0.54,"sbmd":0.50},{"age":81.5,"bmd":0.71,"sbmd":0.68},{"age":82.1,"bmd":0.64,"sbmd":0.61},{"age":82.6,"bmd":0.57,"sbmd":0.53},{"age":83.3,"bmd":0.69,"sbmd":0.66},{"age":83.9,"bmd":0.50,"sbmd":0.46},{"age":84.4,"bmd":0.61,"sbmd":0.58},{"age":85.2,"bmd":0.65,"sbmd":0.62},{"age":85.9,"bmd":0.56,"sbmd":0.52},{"age":86.6,"bmd":0.66,"sbmd":0.63},{"age":64.1,"bmd":0.90,"sbmd":0.87},{"age":68.0,"bmd":0.93,"sbmd":0.90},{"age":72.0,"bmd":0.97,"sbmd":0.94},{"age":76.2,"bmd":0.92,"sbmd":0.89},{"age":80.0,"bmd":0.86,"sbmd":0.83},{"age":84.6,"bmd":0.74,"sbmd":0.71}
],
"fitA":[
{"age":20,"h":0.935,"g":1.025,"a":0.946},{"age":30,"h":0.90,"g":0.995,"a":0.91},{"age":40,"h":0.86,"g":0.96,"a":0.87},{"age":50,"h":0.79,"g":0.88,"a":0.80},{"age":55,"h":0.745,"g":0.83,"a":0.755},{"age":60,"h":0.71,"g":0.79,"a":0.72},{"age":70,"h":0.61,"g":0.713,"a":0.63},{"age":80,"h":0.525,"g":0.625,"a":0.565},{"age":87.5,"h":0.46,"g":0.553,"a":0.525}
],
"fitB":[
{"age":20,"h":0.955,"g":1.005,"a":0.965},{"age":30,"h":0.925,"g":0.975,"a":0.935},{"age":40,"h":0.885,"g":0.93,"a":0.895},{"age":50,"h":0.81,"g":0.84,"a":0.82},{"age":60,"h":0.735,"g":0.745,"a":0.73},{"age":70,"h":0.65,"g":0.665,"a":0.65},{"age":80,"h":0.57,"g":0.585,"a":0.57},{"age":85.5,"h":0.52,"g":0.535,"a":0.52}
],
"bands":[
{"s":"cg","q":"u","age":20,"bmd":1.09,"lo":1.05,"hi":1.13},{"s":"cg","q":"u","age":30,"bmd":1.05,"lo":1.015,"hi":1.085},{"s":"cg","q":"u","age":40,"bmd":1.002,"lo":0.972,"hi":1.032},{"s":"cg","q":"u","age":50,"bmd":0.93,"lo":0.90,"hi":0.96},{"s":"cg","q":"u","age":55,"bmd":0.876,"lo":0.846,"hi":0.906},{"s":"cg","q":"u","age":60,"bmd":0.82,"lo":0.79,"hi":0.85},{"s":"cg","q":"u","age":70,"bmd":0.725,"lo":0.695,"hi":0.755},{"s":"cg","q":"u","age":80,"bmd":0.624,"lo":0.589,"hi":0.659},{"s":"cg","q":"u","age":87,"bmd":0.548,"lo":0.508,"hi":0.588},
{"s":"cg","q":"m","age":20,"bmd":0.951,"lo":0.911,"hi":0.991},{"s":"cg","q":"m","age":30,"bmd":0.91,"lo":0.875,"hi":0.945},{"s":"cg","q":"m","age":40,"bmd":0.863,"lo":0.833,"hi":0.893},{"s":"cg","q":"m","age":50,"bmd":0.79,"lo":0.76,"hi":0.82},{"s":"cg","q":"m","age":55,"bmd":0.75,"lo":0.72,"hi":0.78},{"s":"cg","q":"m","age":60,"bmd":0.70,"lo":0.67,"hi":0.73},{"s":"cg","q":"m","age":70,"bmd":0.611,"lo":0.581,"hi":0.641},{"s":"cg","q":"m","age":80,"bmd":0.525,"lo":0.49,"hi":0.56},{"s":"cg","q":"m","age":87,"bmd":0.46,"lo":0.42,"hi":0.50},
{"s":"cg","q":"l","age":20,"bmd":0.813,"lo":0.773,"hi":0.853},{"s":"cg","q":"l","age":30,"bmd":0.777,"lo":0.742,"hi":0.812},{"s":"cg","q":"l","age":40,"bmd":0.737,"lo":0.707,"hi":0.767},{"s":"cg","q":"l","age":50,"bmd":0.675,"lo":0.645,"hi":0.705},{"s":"cg","q":"l","age":55,"bmd":0.636,"lo":0.606,"hi":0.666},{"s":"cg","q":"l","age":60,"bmd":0.595,"lo":0.565,"hi":0.625},{"s":"cg","q":"l","age":70,"bmd":0.51,"lo":0.48,"hi":0.54},{"s":"cg","q":"l","age":80,"bmd":0.447,"lo":0.412,"hi":0.482},{"s":"cg","q":"l","age":87,"bmd":0.397,"lo":0.357,"hi":0.437},
{"s":"cr","q":"u","age":20,"bmd":1.055,"lo":1.033,"hi":1.077},{"s":"cr","q":"u","age":30,"bmd":1.02,"lo":0.998,"hi":1.042},{"s":"cr","q":"u","age":40,"bmd":0.98,"lo":0.958,"hi":1.002},{"s":"cr","q":"u","age":50,"bmd":0.912,"lo":0.89,"hi":0.934},{"s":"cr","q":"u","age":55,"bmd":0.864,"lo":0.842,"hi":0.886},{"s":"cr","q":"u","age":60,"bmd":0.81,"lo":0.788,"hi":0.832},{"s":"cr","q":"u","age":70,"bmd":0.712,"lo":0.69,"hi":0.734},{"s":"cr","q":"u","age":80,"bmd":0.608,"lo":0.586,"hi":0.63},{"s":"cr","q":"u","age":87,"bmd":0.53,"lo":0.508,"hi":0.552},
{"s":"cr","q":"m","age":20,"bmd":0.92,"lo":0.898,"hi":0.942},{"s":"cr","q":"m","age":30,"bmd":0.89,"lo":0.868,"hi":0.912},{"s":"cr","q":"m","age":40,"bmd":0.848,"lo":0.826,"hi":0.87},{"s":"cr","q":"m","age":50,"bmd":0.78,"lo":0.758,"hi":0.802},{"s":"cr","q":"m","age":55,"bmd":0.742,"lo":0.72,"hi":0.764},{"s":"cr","q":"m","age":60,"bmd":0.695,"lo":0.673,"hi":0.717},{"s":"cr","q":"m","age":70,"bmd":0.607,"lo":0.585,"hi":0.629},{"s":"cr","q":"m","age":80,"bmd":0.522,"lo":0.5,"hi":0.544},{"s":"cr","q":"m","age":87,"bmd":0.456,"lo":0.434,"hi":0.478},
{"s":"cr","q":"l","age":20,"bmd":0.79,"lo":0.768,"hi":0.812},{"s":"cr","q":"l","age":30,"bmd":0.76,"lo":0.738,"hi":0.782},{"s":"cr","q":"l","age":40,"bmd":0.726,"lo":0.704,"hi":0.748},{"s":"cr","q":"l","age":50,"bmd":0.668,"lo":0.646,"hi":0.69},{"s":"cr","q":"l","age":55,"bmd":0.632,"lo":0.61,"hi":0.654},{"s":"cr","q":"l","age":60,"bmd":0.594,"lo":0.572,"hi":0.616},{"s":"cr","q":"l","age":70,"bmd":0.515,"lo":0.493,"hi":0.537},{"s":"cr","q":"l","age":80,"bmd":0.455,"lo":0.433,"hi":0.477},{"s":"cr","q":"l","age":87,"bmd":0.41,"lo":0.388,"hi":0.432},
{"s":"db","q":"u","age":20,"bmd":1.215,"lo":1.03,"hi":1.40},{"s":"db","q":"u","age":30,"bmd":1.17,"lo":1.01,"hi":1.33},{"s":"db","q":"u","age":40,"bmd":1.12,"lo":0.985,"hi":1.255},{"s":"db","q":"u","age":50,"bmd":1.03,"lo":0.93,"hi":1.13},{"s":"db","q":"u","age":60,"bmd":0.93,"lo":0.86,"hi":1.00},{"s":"db","q":"u","age":70,"bmd":0.84,"lo":0.78,"hi":0.90},{"s":"db","q":"u","age":80,"bmd":0.76,"lo":0.70,"hi":0.82},{"s":"db","q":"u","age":86,"bmd":0.70,"lo":0.64,"hi":0.76},
{"s":"db","q":"m","age":20,"bmd":1.027,"lo":0.907,"hi":1.147},{"s":"db","q":"m","age":30,"bmd":1.00,"lo":0.91,"hi":1.09},{"s":"db","q":"m","age":40,"bmd":0.967,"lo":0.907,"hi":1.027},{"s":"db","q":"m","age":50,"bmd":0.885,"lo":0.845,"hi":0.925},{"s":"db","q":"m","age":60,"bmd":0.785,"lo":0.75,"hi":0.82},{"s":"db","q":"m","age":70,"bmd":0.705,"lo":0.67,"hi":0.74},{"s":"db","q":"m","age":80,"bmd":0.625,"lo":0.585,"hi":0.665},{"s":"db","q":"m","age":86,"bmd":0.565,"lo":0.52,"hi":0.61},
{"s":"db","q":"l","age":20,"bmd":0.87,"lo":0.76,"hi":0.98},{"s":"db","q":"l","age":30,"bmd":0.835,"lo":0.75,"hi":0.92},{"s":"db","q":"l","age":40,"bmd":0.80,"lo":0.74,"hi":0.86},{"s":"db","q":"l","age":50,"bmd":0.725,"lo":0.67,"hi":0.78},{"s":"db","q":"l","age":60,"bmd":0.645,"lo":0.595,"hi":0.695},{"s":"db","q":"l","age":70,"bmd":0.575,"lo":0.525,"hi":0.625},{"s":"db","q":"l","age":80,"bmd":0.51,"lo":0.46,"hi":0.56},{"s":"db","q":"l","age":86,"bmd":0.475,"lo":0.425,"hi":0.525},
{"s":"dg","q":"u","age":20,"bmd":1.145,"lo":1.11,"hi":1.18},{"s":"dg","q":"u","age":30,"bmd":1.09,"lo":1.06,"hi":1.12},{"s":"dg","q":"u","age":40,"bmd":1.03,"lo":1.0,"hi":1.06},{"s":"dg","q":"u","age":50,"bmd":0.95,"lo":0.92,"hi":0.98},{"s":"dg","q":"u","age":60,"bmd":0.855,"lo":0.825,"hi":0.885},{"s":"dg","q":"u","age":70,"bmd":0.77,"lo":0.74,"hi":0.80},{"s":"dg","q":"u","age":80,"bmd":0.69,"lo":0.66,"hi":0.72},{"s":"dg","q":"u","age":86,"bmd":0.645,"lo":0.615,"hi":0.675},
{"s":"dg","q":"m","age":20,"bmd":0.995,"lo":0.96,"hi":1.03},{"s":"dg","q":"m","age":30,"bmd":0.965,"lo":0.935,"hi":0.995},{"s":"dg","q":"m","age":40,"bmd":0.93,"lo":0.90,"hi":0.96},{"s":"dg","q":"m","age":50,"bmd":0.865,"lo":0.835,"hi":0.895},{"s":"dg","q":"m","age":60,"bmd":0.775,"lo":0.745,"hi":0.805},{"s":"dg","q":"m","age":70,"bmd":0.695,"lo":0.665,"hi":0.725},{"s":"dg","q":"m","age":80,"bmd":0.612,"lo":0.582,"hi":0.642},{"s":"dg","q":"m","age":86,"bmd":0.56,"lo":0.53,"hi":0.59},
{"s":"dg","q":"l","age":20,"bmd":0.875,"lo":0.84,"hi":0.91},{"s":"dg","q":"l","age":30,"bmd":0.84,"lo":0.81,"hi":0.87},{"s":"dg","q":"l","age":40,"bmd":0.80,"lo":0.77,"hi":0.83},{"s":"dg","q":"l","age":50,"bmd":0.73,"lo":0.70,"hi":0.76},{"s":"dg","q":"l","age":60,"bmd":0.655,"lo":0.625,"hi":0.685},{"s":"dg","q":"l","age":70,"bmd":0.585,"lo":0.555,"hi":0.615},{"s":"dg","q":"l","age":80,"bmd":0.525,"lo":0.495,"hi":0.555},{"s":"dg","q":"l","age":86,"bmd":0.495,"lo":0.465,"hi":0.525}
]
},
"concat":[
{
"width":312,"height":158,
"title":{"text":"(a) Un-calibrated"},
"encoding":{
"x":{"field":"age","type":"quantitative","scale":{"domain":[20,87.5],"nice":false,"zero":false},"axis":{"title":"Age (years)","values":[20,30,40,50,60,70,80]}},
"y":{"field":"bmd","type":"quantitative","scale":{"domain":[0.2,1.4],"nice":false,"zero":false},"axis":{"title":"BMD (g/cm  ²)","values":[0.2,0.4,0.6,0.8,1,1.2,1.4],"format":"~g"}}
},
"layer":[
{"data":{"name":"hol"},"mark":{"type":"square","size":8,"color":"#ff0000","opacity":1,"clip":true}},
{"data":{"name":"ge"},"mark":{"type":"square","size":8,"color":"#0000ff","opacity":1,"clip":true}},
{"data":{"name":"fitA"},"transform":[{"fold":["h","g","a"],"as":["model","bmd"]}],"mark":{"type":"line","strokeWidth":2.2,"interpolate":"monotone","clip":true},
"encoding":{"stroke":{"field":"model","type":"nominal","sort":null,"scale":{"domain":["h","g","a"],"range":["#ff0000","#0000ff","#000000"]},
"legend":{"title":null,"orient":"none","legendX":197,"legendY":4,"labelExpr":"datum.value=='h'?'Hologic QDR 4500A':datum.value=='g'?'GE-Lunar Prodigy':'Amalgamation'","symbolType":"stroke","symbolSize":110,"symbolStrokeWidth":2,"labelFont":"Liberation Sans","labelFontSize":10,"labelColor":"#000","fillColor":"#ffffff","strokeColor":"#444444","padding":3,"rowPadding":0,"labelOffset":2,"symbolOffset":0}}}}
]
},
{
"width":304,"height":158,
"title":{"text":"(b) Calibrated"},
"encoding":{
"x":{"field":"age","type":"quantitative","scale":{"domain":[20,85.5],"nice":false,"zero":false},"axis":{"title":"Age (years)","values":[20,30,40,50,60,70,80]}},
"y":{"field":"sbmd","type":"quantitative","scale":{"domain":[0.2,1.4],"nice":false,"zero":false},"axis":{"title":"sBMD (g/cm  ²)","values":[0.2,0.4,0.6,0.8,1,1.2,1.4],"format":"~g"}}
},
"layer":[
{"data":{"name":"hol"},"mark":{"type":"square","size":8,"color":"#ff0000","opacity":1,"clip":true}},
{"data":{"name":"ge"},"mark":{"type":"square","size":8,"color":"#0000ff","opacity":1,"clip":true}},
{"data":{"name":"fitB"},"transform":[{"fold":["h","g","a"],"as":["model","sbmd"]}],"mark":{"type":"line","strokeWidth":2.2,"interpolate":"monotone","clip":true},
"encoding":{"stroke":{"field":"model","type":"nominal","sort":null,"scale":{"domain":["h","g","a"],"range":["#ff0000","#0000ff","#000000"]},
"legend":{"title":null,"orient":"none","legendX":195,"legendY":4,"labelExpr":"datum.value=='h'?'Hologic QDR 4500A':datum.value=='g'?'GE-Lunar Prodigy':'Amalgamation'","symbolType":"stroke","symbolSize":100,"symbolStrokeWidth":2,"labelFont":"Liberation Sans","labelFontSize":9.5,"labelColor":"#000","fillColor":"#ffffff","strokeColor":"#444444","padding":3,"rowPadding":0.5,"labelOffset":2,"symbolOffset":0}}}}
]
},
{
"width":312,"height":158,
"title":{"text":"(c) Hologic QDR 4500A"},
"encoding":{
"x":{"field":"age","type":"quantitative","scale":{"domain":[20,87],"nice":false,"zero":false},"axis":{"title":"Age (years)","values":[20,30,40,50,60,70,80],"labelFont":"DejaVu Sans","titleFont":"DejaVu Sans","labelFontSize":9.5,"domainColor":"#b0b0b0","tickColor":"#b0b0b0"}},
"y":{"field":"bmd","type":"quantitative","scale":{"domain":[0.2,1.4],"nice":false,"zero":false},"axis":{"title":"BMD (g/cm²)","values":[0.2,0.4,0.6,0.8,1,1.2,1.4],"format":"~g","labelFont":"DejaVu Sans","titleFont":"DejaVu Sans","labelFontSize":9.5,"domainColor":"#b0b0b0","tickColor":"#b0b0b0"}}
},
"layer":[
{"data":{"name":"hol"},"mark":{"type":"square","size":8,"color":"#ff0000","opacity":1,"clip":true}},
{"data":{"name":"bands"},"transform":[{"filter":"datum.s=='cr'"}],"mark":{"type":"area","color":"#ff0000","opacity":0.3,"interpolate":"monotone","clip":true},"encoding":{"y":{"field":"lo","type":"quantitative"},"y2":{"field":"hi"},"detail":{"field":"q"}}},
{"data":{"name":"bands"},"transform":[{"filter":"datum.s=='cr'"}],"mark":{"type":"line","color":"#ff0000","strokeWidth":2,"interpolate":"monotone","clip":true},"encoding":{"strokeDash":{"field":"q","type":"nominal","scale":{"domain":["m","u","l"],"range":[[1,0],[7,4],[7,4]]},"legend":null}}},
{"data":{"name":"bands"},"transform":[{"filter":"datum.s=='cg'"}],"mark":{"type":"area","color":"#00ff00","opacity":0.4,"interpolate":"monotone","clip":true},"encoding":{"y":{"field":"lo","type":"quantitative"},"y2":{"field":"hi"},"detail":{"field":"q"}}},
{"data":{"name":"bands"},"transform":[{"filter":"datum.s=='cg'"}],"mark":{"type":"line","color":"#005a00","strokeWidth":2.2,"interpolate":"monotone","clip":true},"encoding":{"strokeDash":{"field":"q","type":"nominal","scale":{"domain":["m","u","l"],"range":[[1,0],[7,4],[7,4]]},"legend":null}}}
]
},
{
"width":304,"height":158,
"title":{"text":"(d) GE-Lunar Prodigy"},
"encoding":{
"x":{"field":"age","type":"quantitative","scale":{"domain":[20,85.5],"nice":false,"zero":false},"axis":{"title":"Age (years)","values":[20,30,40,50,60,70,80],"labelFont":"DejaVu Sans","titleFont":"DejaVu Sans","labelFontSize":9.5,"domainColor":"#b0b0b0","tickColor":"#b0b0b0"}},
"y":{"field":"bmd","type":"quantitative","scale":{"domain":[0.2,1.4],"nice":false,"zero":false},"axis":{"title":"BMD (g/cm²)","values":[0.2,0.4,0.6,0.8,1,1.2,1.4],"format":"~g","labelFont":"DejaVu Sans","titleFont":"DejaVu Sans","labelFontSize":9.5,"domainColor":"#b0b0b0","tickColor":"#b0b0b0"}}
},
"layer":[
{"data":{"name":"ge"},"mark":{"type":"square","size":8,"color":"#0000ff","opacity":1,"clip":true}},
{"data":{"name":"bands"},"transform":[{"filter":"datum.s=='db'"}],"mark":{"type":"area","color":"#0000ff","opacity":0.4,"interpolate":"monotone","clip":true},"encoding":{"y":{"field":"lo","type":"quantitative"},"y2":{"field":"hi"},"detail":{"field":"q"}}},
{"data":{"name":"bands"},"transform":[{"filter":"datum.s=='dg'"}],"mark":{"type":"area","color":"#00ff00","opacity":0.4,"interpolate":"monotone","clip":true},"encoding":{"y":{"field":"lo","type":"quantitative"},"y2":{"field":"hi"},"detail":{"field":"q"}}},
{"data":{"name":"bands"},"transform":[{"filter":"datum.s=='db'"}],"mark":{"type":"line","color":"#0000ff","strokeWidth":2,"interpolate":"monotone","clip":true},"encoding":{"strokeDash":{"field":"q","type":"nominal","scale":{"domain":["m","u","l"],"range":[[1,0],[7,4],[7,4]]},"legend":null}}},
{"data":{"name":"bands"},"transform":[{"filter":"datum.s=='dg'"}],"mark":{"type":"line","color":"#005a00","strokeWidth":2.2,"interpolate":"monotone","clip":true},"encoding":{"strokeDash":{"field":"q","type":"nominal","scale":{"domain":["m","u","l"],"range":[[1,0],[7,4],[7,4]]},"legend":null}}}
]
}
],
"config":{
"view":{"stroke":null},
"axis":{"grid":false,"tickSize":-3,"domainColor":"#404040","tickColor":"#404040","labelColor":"#404040","titleColor":"#404040","labelFont":"Liberation Sans","titleFont":"Liberation Sans","labelFontSize":10,"titleFontSize":10.5,"titleFontWeight":"normal","labelFlush":false,"labelOverlap":false},
"axisX":{"labelPadding":5.5,"titlePadding":5.5},
"axisY":{"labelPadding":3,"titlePadding":9},
"title":{"font":"DejaVu Serif","fontSize":19,"fontWeight":"normal","color":"#000000","orient":"bottom","frame":"bounds","anchor":"middle","offset":16}
}
}
